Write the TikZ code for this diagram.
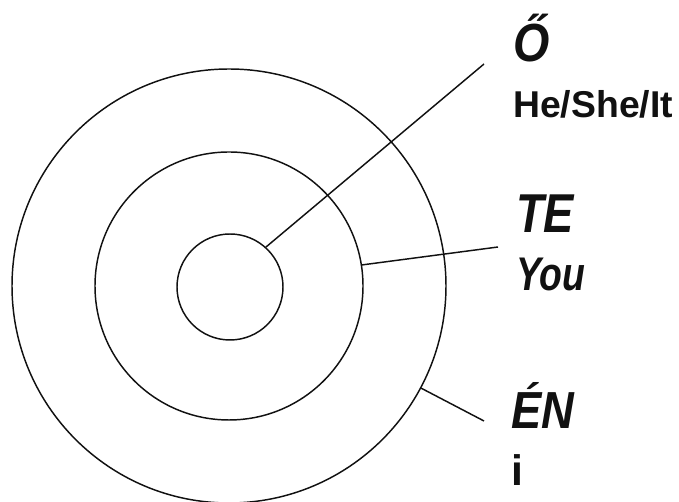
\documentclass[tikz,border=0pt]{standalone}
\usepackage{fontspec}
\setmainfont{Liberation Sans}
\usepackage{tikz}
\usetikzlibrary{positioning,calc}
\definecolor{ink}{HTML}{111111}

\begin{document}
\begin{tikzpicture}[x=0.75pt,y=0.75pt,
  ring/.style={circle,draw=ink,line width=1.1pt,inner sep=0pt},
  lead/.style={line width=1.1pt,color=ink},
  word/.style={anchor=base west,inner sep=0pt,text=ink,
    font=\bfseries\itshape\fontsize{34}{40}\selectfont,yscale=1.15,transform shape},
  gloss/.style={anchor=base west,inner sep=0pt,text=ink,
    font=\bfseries\fontsize{28}{34}\selectfont},
]
  \useasboundingbox (0,0) rectangle (679,502);
  \node[ring,minimum size=325.5pt] (outer) at (229,216) {};
  \node[ring,minimum size=201pt] (middle) at (229,216) {};
  \node[ring,minimum size=79.5pt] (inner) at (230,215) {};
  \coordinate (e1) at (484,438);
  \coordinate (e2) at (498,255);
  \coordinate (e3) at (484,81);
  \draw[lead] (inner.48)--(e1);
  \draw[lead] (middle.9)--(e2);
  \draw[lead] (outer.-28)--(e3);
  \node[word,font=\bfseries\itshape\fontsize{35}{40}\selectfont] (o) at (513,440) {Ő};
  \node[gloss] (he) at (513,384) {He/She/It};
  \node[word,yscale=1.05] (te) at (516,269) {TE};
  \node[word,font=\bfseries\itshape\fontsize{28}{32}\selectfont,yscale=1.1] (you) at (516,211) {You};
  \node[word] (en) at (511,73) {ÉN};
  \node[gloss,font=\bfseries\fontsize{32}{38}\selectfont] (i) at (511,16) {i};
\end{tikzpicture}
\end{document}
